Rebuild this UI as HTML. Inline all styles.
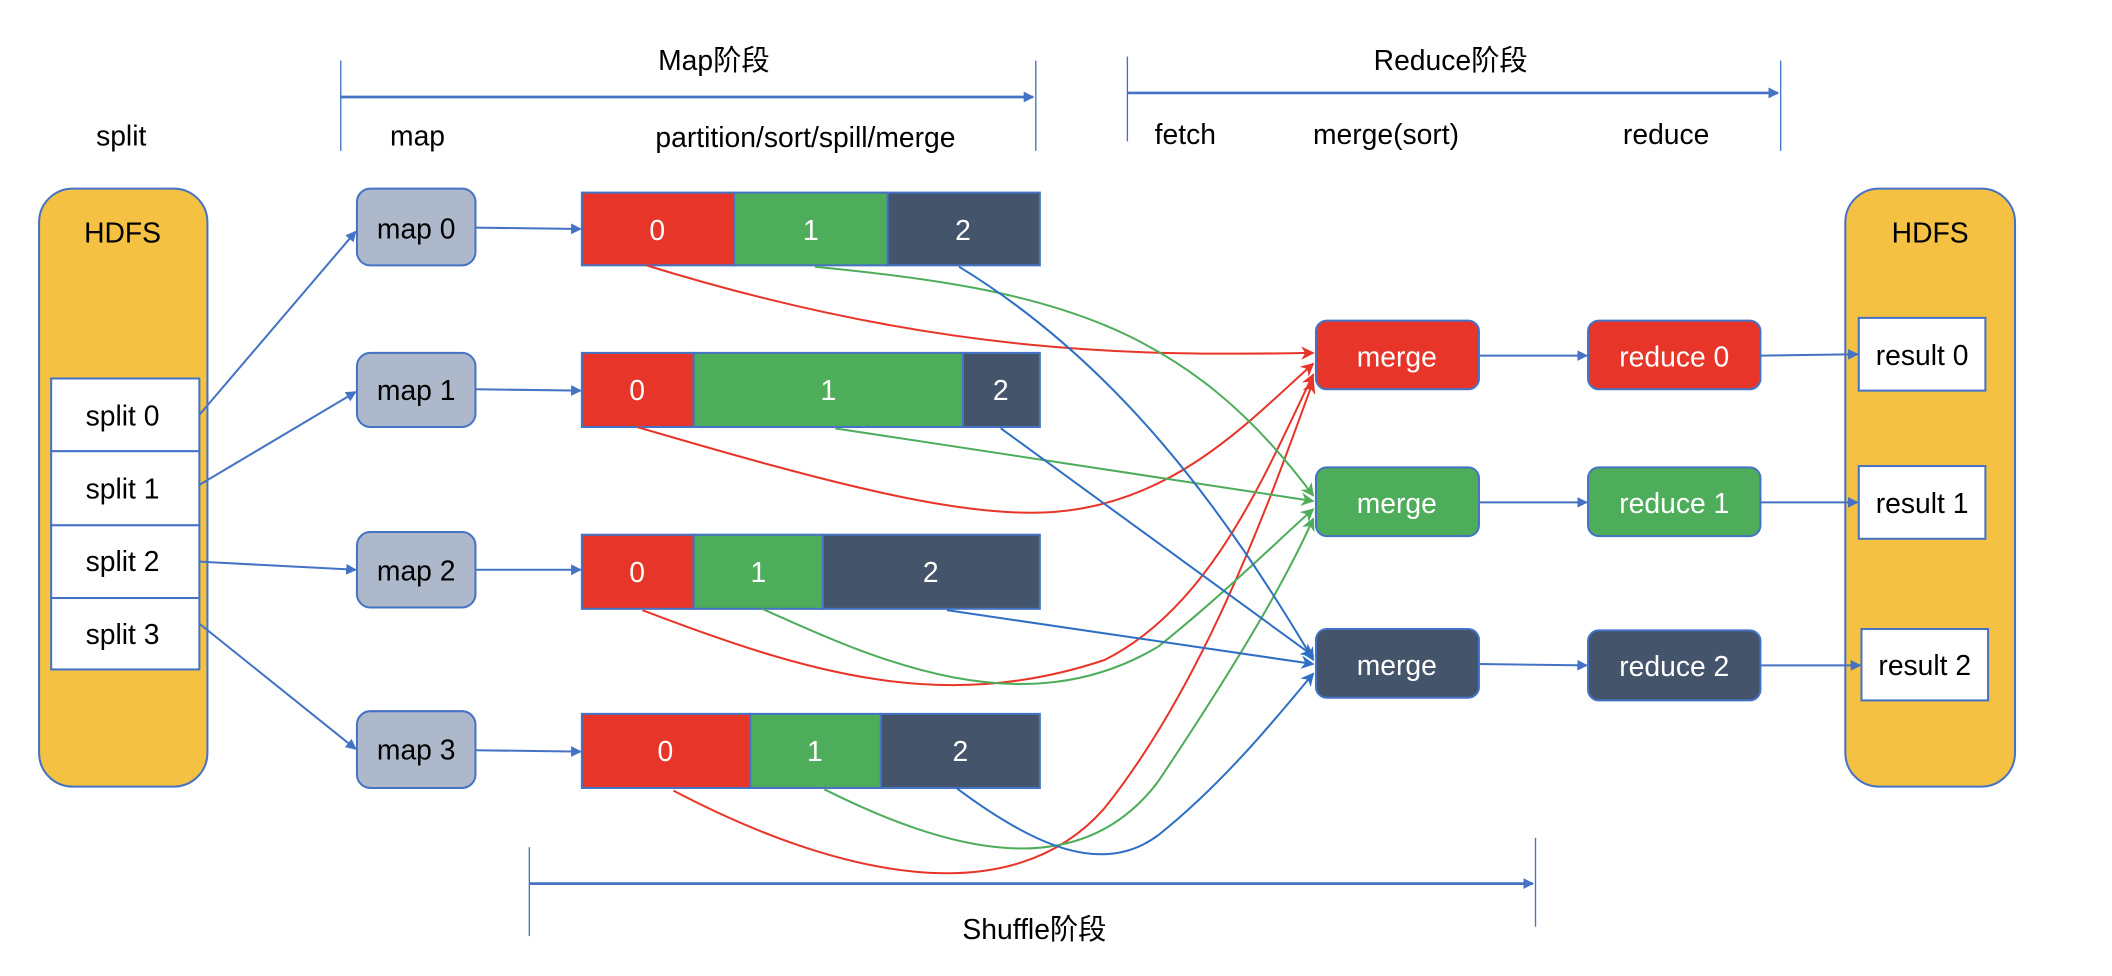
<!DOCTYPE html>
<html><head><meta charset="utf-8"><style>
html,body{margin:0;padding:0;background:#fff;}
svg{display:block;}
text{font-family:"Liberation Sans","Noto Sans CJK SC",sans-serif;}
</style></head><body>
<svg width="2112" height="976" viewBox="0 0 1568 724.6" preserveAspectRatio="none" xmlns="http://www.w3.org/2000/svg">
<defs>
<marker id="ab" markerWidth="8" markerHeight="8" refX="7" refY="4" orient="auto" markerUnits="userSpaceOnUse"><path d="M0,0 L8,4 L0,8 Z" fill="#4472C4"/></marker>
<marker id="ar" markerWidth="10" markerHeight="10" refX="9" refY="5" orient="auto" markerUnits="userSpaceOnUse"><path d="M0,0 L10,5 L0,10 L3,5 Z" fill="#E8352A"/></marker>
<marker id="ag" markerWidth="10" markerHeight="10" refX="9" refY="5" orient="auto" markerUnits="userSpaceOnUse"><path d="M0,0 L10,5 L0,10 L3,5 Z" fill="#4EAD5B"/></marker>
<marker id="ad" markerWidth="10" markerHeight="10" refX="9" refY="5" orient="auto" markerUnits="userSpaceOnUse"><path d="M0,0 L10,5 L0,10 L3,5 Z" fill="#2E6FC4"/></marker>
</defs>
<g font-size="21" fill="#000" text-anchor="middle">
<text x="530" y="52">Map阶段</text>
<text x="1077" y="52">Reduce阶段</text>
<text x="768" y="697">Shuffle阶段</text>
<text x="90" y="108">split</text>
<text x="310" y="108">map</text>
<text x="598" y="109">partition/sort/spill/merge</text>
<text x="880" y="107">fetch</text>
<text x="1029" y="107">merge(sort)</text>
<text x="1237" y="107">reduce</text>
</g>
<g stroke="#4472C4" stroke-width="1" fill="none">
<line x1="253" y1="45" x2="253" y2="112"/><line x1="769" y1="45" x2="769" y2="112"/>
<line x1="837" y1="42" x2="837" y2="105"/><line x1="1322" y1="45" x2="1322" y2="112"/>
<line x1="393" y1="629" x2="393" y2="695"/><line x1="1140" y1="622" x2="1140" y2="688"/>
</g>
<g stroke="#4472C4" stroke-width="2" fill="none" marker-end="url(#ab)">
<line x1="253" y1="72" x2="767" y2="72"/>
<line x1="837" y1="69" x2="1320" y2="69"/>
<line x1="393" y1="656" x2="1138" y2="656"/>
</g>
<!-- HDFS left -->
<rect x="29" y="140" width="125" height="444" rx="25" fill="#F4C142" stroke="#4472C4" stroke-width="1.5"/>
<text x="91" y="180" font-size="21" text-anchor="middle">HDFS</text>
<g fill="#fff" stroke="#4472C4" stroke-width="1.5">
<rect x="38" y="281" width="110" height="54"/><rect x="38" y="335" width="110" height="55"/>
<rect x="38" y="390" width="110" height="54"/><rect x="38" y="444" width="110" height="53"/>
</g>
<g font-size="21" text-anchor="middle">
<text x="91" y="316">split 0</text><text x="91" y="370">split 1</text>
<text x="91" y="424">split 2</text><text x="91" y="478">split 3</text>
</g>
<!-- HDFS right -->
<rect x="1370" y="140" width="126" height="444" rx="25" fill="#F4C142" stroke="#4472C4" stroke-width="1.5"/>
<text x="1433" y="180" font-size="21" text-anchor="middle">HDFS</text>
<g fill="#fff" stroke="#4472C4" stroke-width="1.5">
<rect x="1380" y="236" width="94" height="54"/><rect x="1380" y="346" width="94" height="54"/><rect x="1382" y="467" width="94" height="53"/>
</g>
<g font-size="21" text-anchor="middle">
<text x="1427" y="271">result 0</text><text x="1427" y="381">result 1</text><text x="1429" y="501">result 2</text>
</g>
<!-- maps -->
<g fill="#ADB9CA" stroke="#4472C4" stroke-width="1.5">
<rect x="265" y="140" width="88" height="57" rx="10"/><rect x="265" y="262" width="88" height="55" rx="10"/>
<rect x="265" y="395" width="88" height="56" rx="10"/><rect x="265" y="528" width="88" height="57" rx="10"/>
</g>
<g font-size="21" text-anchor="middle">
<text x="309" y="177">map 0</text><text x="309" y="297">map 1</text><text x="309" y="431">map 2</text><text x="309" y="564">map 3</text>
</g>
<!-- bars -->
<g stroke="#4472C4" stroke-width="1.5">
<rect x="432" y="143" width="113" height="54" fill="#E8352A"/><rect x="545" y="143" width="114" height="54" fill="#4EAD5B"/><rect x="659" y="143" width="113" height="54" fill="#44546A"/>
<rect x="432" y="262" width="83" height="55" fill="#E8352A"/><rect x="515" y="262" width="200" height="55" fill="#4EAD5B"/><rect x="715" y="262" width="57" height="55" fill="#44546A"/>
<rect x="432" y="397" width="83" height="55" fill="#E8352A"/><rect x="515" y="397" width="96" height="55" fill="#4EAD5B"/><rect x="611" y="397" width="161" height="55" fill="#44546A"/>
<rect x="432" y="530" width="125" height="55" fill="#E8352A"/><rect x="557" y="530" width="97" height="55" fill="#4EAD5B"/><rect x="654" y="530" width="118" height="55" fill="#44546A"/>
</g>
<g font-size="21" fill="#fff" text-anchor="middle">
<text x="488" y="178">0</text><text x="602" y="178">1</text><text x="715" y="178">2</text>
<text x="473" y="297">0</text><text x="615" y="297">1</text><text x="743" y="297">2</text>
<text x="473" y="432">0</text><text x="563" y="432">1</text><text x="691" y="432">2</text>
<text x="494" y="565">0</text><text x="605" y="565">1</text><text x="713" y="565">2</text>
</g>
<!-- merge/reduce -->
<g stroke="#4472C4" stroke-width="1.5">
<rect x="977" y="238" width="121" height="51" rx="8" fill="#E8352A"/><rect x="977" y="347" width="121" height="51" rx="8" fill="#4EAD5B"/><rect x="977" y="467" width="121" height="51" rx="8" fill="#44546A"/>
<rect x="1179" y="238" width="128" height="51" rx="8" fill="#E8352A"/><rect x="1179" y="347" width="128" height="51" rx="8" fill="#4EAD5B"/><rect x="1179" y="468" width="128" height="52" rx="8" fill="#44546A"/>
</g>
<g font-size="21" fill="#fff" text-anchor="middle">
<text x="1037" y="272">merge</text><text x="1037" y="381">merge</text><text x="1037" y="501">merge</text>
<text x="1243" y="272">reduce 0</text><text x="1243" y="381">reduce 1</text><text x="1243" y="502">reduce 2</text>
</g>
<!-- blue straight connectors -->
<g stroke="#4472C4" stroke-width="1.5" fill="none" marker-end="url(#ab)">
<line x1="148" y1="308" x2="264" y2="172"/><line x1="148" y1="360" x2="264" y2="291"/>
<line x1="148" y1="417" x2="264" y2="423"/><line x1="148" y1="463" x2="264" y2="556"/>
<line x1="353" y1="169" x2="431" y2="170"/><line x1="353" y1="289" x2="431" y2="290"/>
<line x1="353" y1="423" x2="431" y2="423"/><line x1="353" y1="557" x2="431" y2="558"/>
<line x1="1098" y1="264" x2="1178" y2="264"/><line x1="1098" y1="373" x2="1178" y2="373"/><line x1="1098" y1="493" x2="1178" y2="494"/>
<line x1="1307" y1="264" x2="1379" y2="263"/><line x1="1307" y1="373" x2="1379" y2="373"/><line x1="1307" y1="494" x2="1381" y2="494"/>
</g>
<!-- curves -->
<g fill="none" stroke-width="1.5">
<path d="M480,197 C700,265 850,264 975,262" stroke="#E8352A" marker-end="url(#ar)"/>
<path d="M473,317 C620,360 730,390 800,378 C880,365 930,310 975,270" stroke="#E8352A" marker-end="url(#ar)"/>
<path d="M477,453 C600,500 700,530 820,490 C900,450 940,350 975,278" stroke="#E8352A" marker-end="url(#ar)"/>
<path d="M500,587 C620,650 750,680 820,600 C900,500 950,350 975,283" stroke="#E8352A" marker-end="url(#ar)"/>
<path d="M605,198 C780,215 880,240 975,368" stroke="#4EAD5B" marker-end="url(#ag)"/>
<path d="M620,318 L975,372" stroke="#4EAD5B" marker-end="url(#ag)"/>
<path d="M566,452 C650,490 760,540 860,480 C910,440 950,400 975,378" stroke="#4EAD5B" marker-end="url(#ag)"/>
<path d="M612,586 C700,630 800,660 860,580 C920,490 955,430 975,385" stroke="#4EAD5B" marker-end="url(#ag)"/>
<path d="M712,198 C830,270 910,380 975,490" stroke="#2E6FC4" marker-end="url(#ad)"/>
<path d="M743,318 L975,487" stroke="#2E6FC4" marker-end="url(#ad)"/>
<path d="M703,453 L975,493" stroke="#2E6FC4" marker-end="url(#ad)"/>
<path d="M710,585 C770,630 820,650 860,620 C910,580 950,530 975,500" stroke="#2E6FC4" marker-end="url(#ad)"/>
</g>
</svg>
</body></html>
